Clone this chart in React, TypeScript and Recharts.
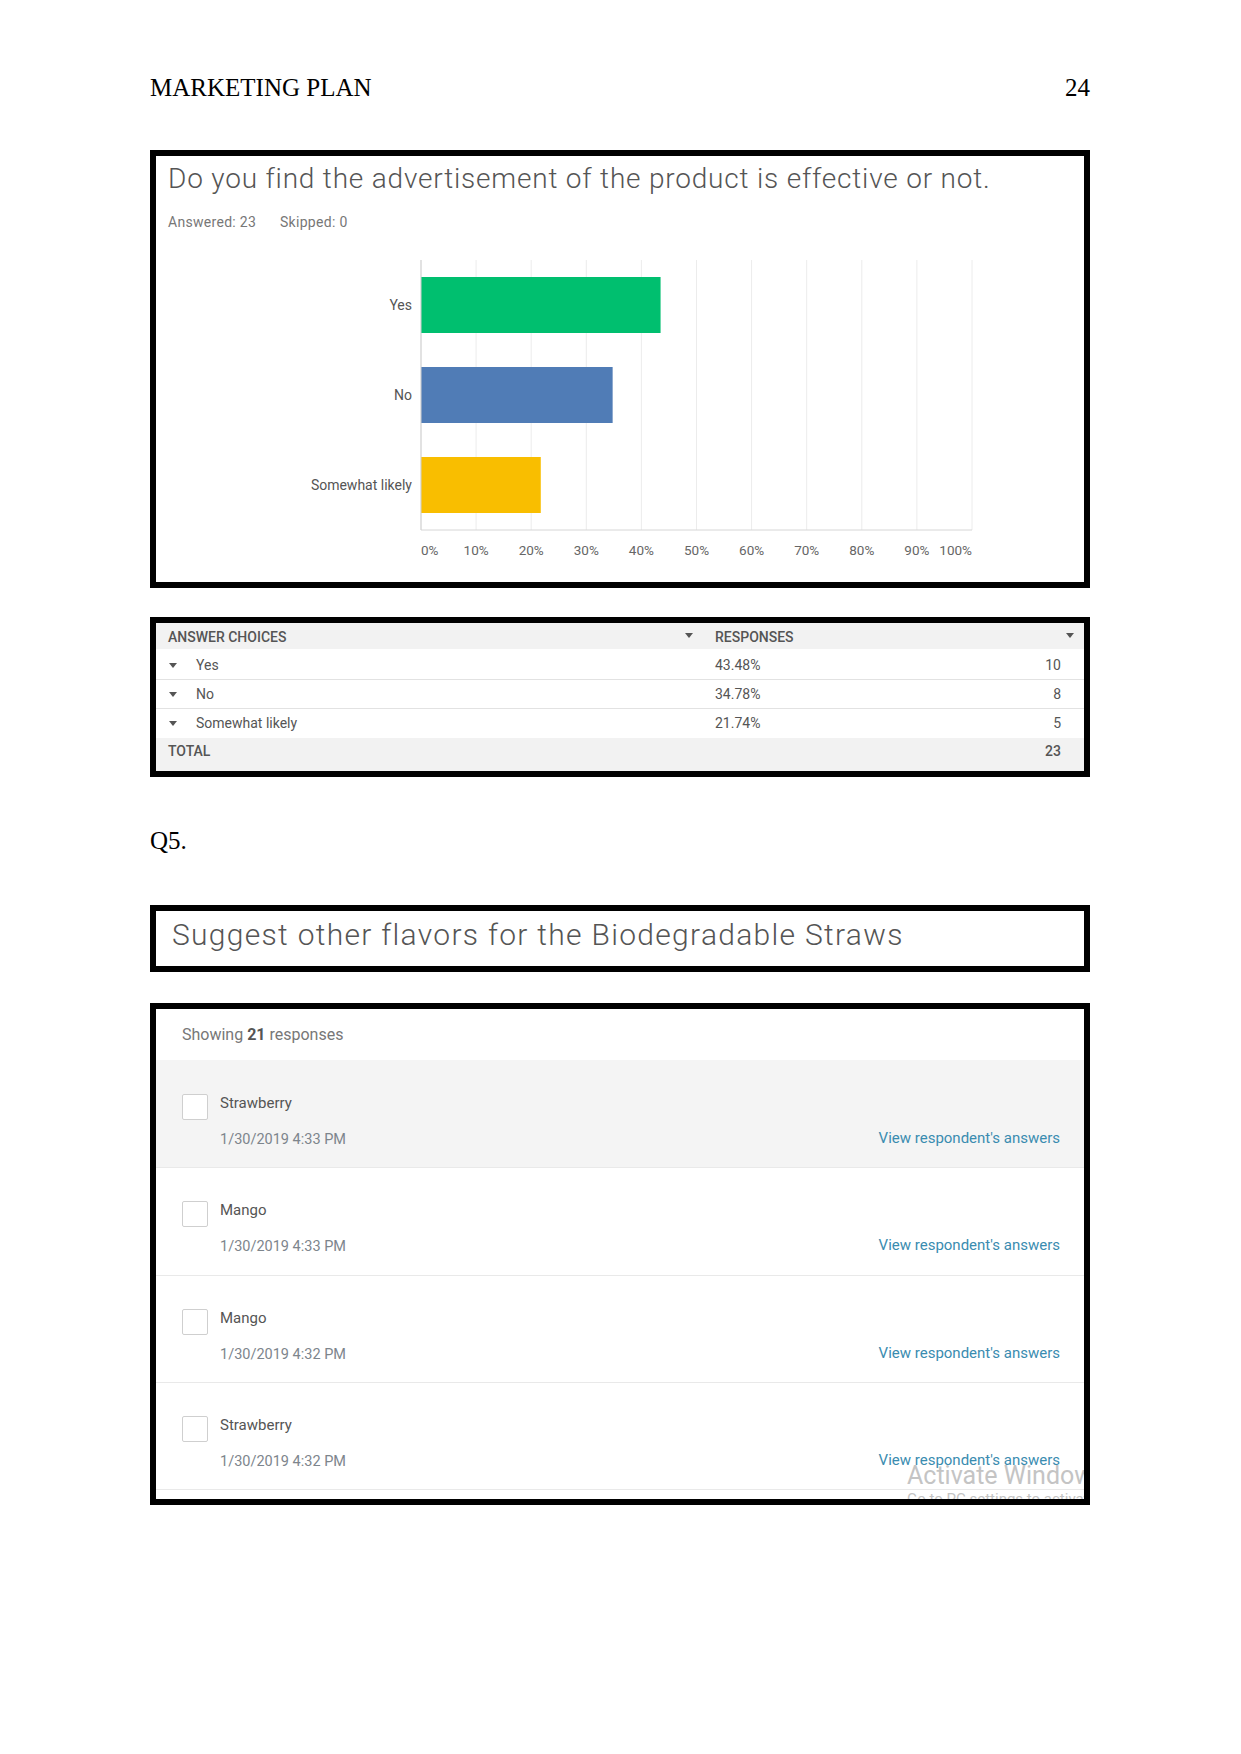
import { BarChart, Bar, XAxis, YAxis, CartesianGrid, Cell } from "recharts";

const choices = ["Yes", "No", "Somewhat likely"];
const percents = [43.48, 34.78, 21.74];
const counts = [10, 8, 5];
const barColors = ["#00BF6F", "#507CB6", "#F9BE00"];
const xTicks = [0, 10, 20, 30, 40, 50, 60, 70, 80, 90, 100];

const flavors = ["Strawberry", "Mango", "Mango", "Strawberry"];
const stamps = ["1/30/2019 4:33 PM", "1/30/2019 4:33 PM", "1/30/2019 4:32 PM", "1/30/2019 4:32 PM"];

const SANS = "Roboto, 'Noto Sans', sans-serif";
const SERIF = "'Liberation Serif', 'DejaVu Serif', serif";

const chartData = choices.map((c, i) => ({ name: c, pct: percents[i] }));

function XTick(props: any) {
  const { x, y, payload } = props;
  const v = payload.value;
  const anchor = v === 0 ? "start" : v === 100 ? "end" : "middle";
  return (
    <text x={x} y={y} dy="0.71em" textAnchor={anchor} fill="#666" fontSize={13.5} fontFamily={SANS}>
      {v + "%"}
    </text>
  );
}

function Caret({ left, top }: { left: number; top: number }) {
  return (
    <div style={{
      position: "absolute", left, top, width: 0, height: 0,
      borderLeft: "4px solid transparent", borderRight: "4px solid transparent",
      borderTop: "5px solid #555",
    }} />
  );
}

const abs = (left: number, top: number, extra: any = {}) => ({ position: "absolute" as const, left, top, ...extra });

export default function App() {
  const frame = { position: "absolute" as const, left: 150, width: 940, border: "6px solid #000", boxSizing: "border-box" as const, background: "#fff", overflow: "hidden" as const };
  const rowTop = 1060;
  const rowH = 107.3;
  const cell = { fontSize: 14, color: "#555", lineHeight: "16px" };
  const head = { fontSize: 14, fontWeight: 500, color: "#555", lineHeight: "16px" };

  return (
    <div style={{ position: "absolute", left: 0, top: 0, width: 1241, height: 1754, background: "#fff", fontFamily: SANS }}>
      {/* page header */}
      <div style={abs(150, 74, { fontFamily: SERIF, fontSize: 25, lineHeight: "28px", color: "#000" })}>MARKETING PLAN</div>
      <div style={abs(1040, 74, { width: 50, textAlign: "right", fontFamily: SERIF, fontSize: 25, lineHeight: "28px", color: "#000" })}>24</div>

      {/* Q4 chart box */}
      <div style={{ ...frame, top: 150, height: 438 }} />
      <div style={abs(168, 162, { fontSize: 28, fontWeight: 300, letterSpacing: 0.8, color: "#555", lineHeight: "34px", whiteSpace: "nowrap" })}>
        Do you find the advertisement of the product is effective or not.
      </div>
      <div style={abs(168, 214, { fontSize: 14, letterSpacing: 0.3, color: "#777", lineHeight: "16px" })}>Answered: 23</div>
      <div style={abs(280, 214, { fontSize: 14, letterSpacing: 0.3, color: "#777", lineHeight: "16px" })}>Skipped: 0</div>
      <div style={abs(160, 250)}>
        <BarChart width={830} height={330} data={chartData} layout="vertical" margin={{ top: 10, right: 18, bottom: 10, left: 0 }}>
          <CartesianGrid horizontal={false} stroke="#ececec" />
          <XAxis type="number" domain={[0, 100]} ticks={xTicks} interval={0} tickLine={false} tickSize={0} tickMargin={15}
            axisLine={{ stroke: "#d6d6d6" }} tick={<XTick />} height={40} />
          <YAxis type="category" dataKey="name" width={261} tickLine={false} tickSize={0} tickMargin={9}
            axisLine={{ stroke: "#cfcfcf" }} tick={{ fill: "#555", fontSize: 14, fontFamily: SANS }} />
          <Bar dataKey="pct" barSize={56} isAnimationActive={false}>
            {chartData.map((d, i) => <Cell key={d.name} fill={barColors[i]} />)}
          </Bar>
        </BarChart>
      </div>

      {/* Q4 table box */}
      <div style={{ ...frame, top: 617, height: 160 }}>
        <div style={{ position: "absolute", left: 0, top: 0, width: 928, height: 26, background: "#f2f2f2" }} />
        <div style={{ position: "absolute", left: 0, top: 115, width: 928, height: 33, background: "#f2f2f2" }} />
      </div>
      <div style={abs(168, 629, head)}>ANSWER CHOICES</div>
      <Caret left={685} top={633} />
      <div style={abs(715, 629, head)}>RESPONSES</div>
      <Caret left={1066} top={633} />
      {choices.map((c, i) => {
        const cy = 665 + i * 29;
        return (
          <div key={c}>
            <Caret left={169} top={cy - 2} />
            <div style={abs(196, cy - 8, cell)}>{c}</div>
            <div style={abs(715, cy - 8, cell)}>{percents[i].toFixed(2) + "%"}</div>
            <div style={abs(1001, cy - 8, { ...cell, width: 60, textAlign: "right" })}>{counts[i]}</div>
            {i < 2 && <div style={abs(156, cy + 14, { width: 928, height: 1, background: "#e2e2e2" })} />}
          </div>
        );
      })}
      <div style={abs(168, 743, head)}>TOTAL</div>
      <div style={abs(1001, 743, { ...head, width: 60, textAlign: "right" })}>
        {counts.reduce((a, b) => a + b, 0)}
      </div>

      {/* Q5 */}
      <div style={abs(150, 827, { fontFamily: SERIF, fontSize: 25, lineHeight: "28px", color: "#000" })}>Q5.</div>
      <div style={{ ...frame, top: 905, height: 67 }} />
      <div style={abs(172, 917, { fontSize: 30, fontWeight: 300, letterSpacing: 1.3, color: "#555", lineHeight: "36px", whiteSpace: "nowrap" })}>
        Suggest other flavors for the Biodegradable Straws
      </div>

      {/* responses box */}
      <div style={{ ...frame, top: 1003, height: 502 }}>
        <div style={{ position: "absolute", left: 0, top: rowTop - 1009, width: 928, height: rowH, background: "#f4f4f4" }} />
        {flavors.map((f, i) => (
          <div key={i} style={{ position: "absolute", left: 0, top: rowTop - 1009 + (i + 1) * rowH, width: 928, height: 1, background: "#e9e9e9" }} />
        ))}
        <div style={{ position: "absolute", left: 751, top: 453, fontSize: 25, color: "#c4c4c4", whiteSpace: "nowrap", lineHeight: "28px" }}>Activate Windows</div>
        <div style={{ position: "absolute", left: 751, top: 481, fontSize: 15, color: "#c4c4c4", whiteSpace: "nowrap", lineHeight: "18px" }}>Go to PC settings to activate Windows.</div>
      </div>
      <div style={abs(182, 1025, { fontSize: 16, color: "#777", lineHeight: "20px" })}>
        Showing <b style={{ color: "#555" }}>21</b> responses
      </div>
      {flavors.map((f, i) => {
        const top = rowTop + i * rowH;
        return (
          <div key={i}>
            <div style={abs(182, top + 34, { width: 24, height: 24, border: "1px solid #cfcfcf", borderRadius: 2, background: "#fff" })} />
            <div style={abs(220, top + 34, { fontSize: 15, color: "#555", lineHeight: "18px" })}>{f}</div>
            <div style={abs(220, top + 71, { fontSize: 14.5, color: "#7d858c", lineHeight: "18px" })}>{stamps[i]}</div>
            <div style={abs(840, top + 69, { width: 220, textAlign: "right", fontSize: 15, color: "#3a8cb0", lineHeight: "18px" })}>
              View respondent's answers
            </div>
          </div>
        );
      })}
    </div>
  );
}
